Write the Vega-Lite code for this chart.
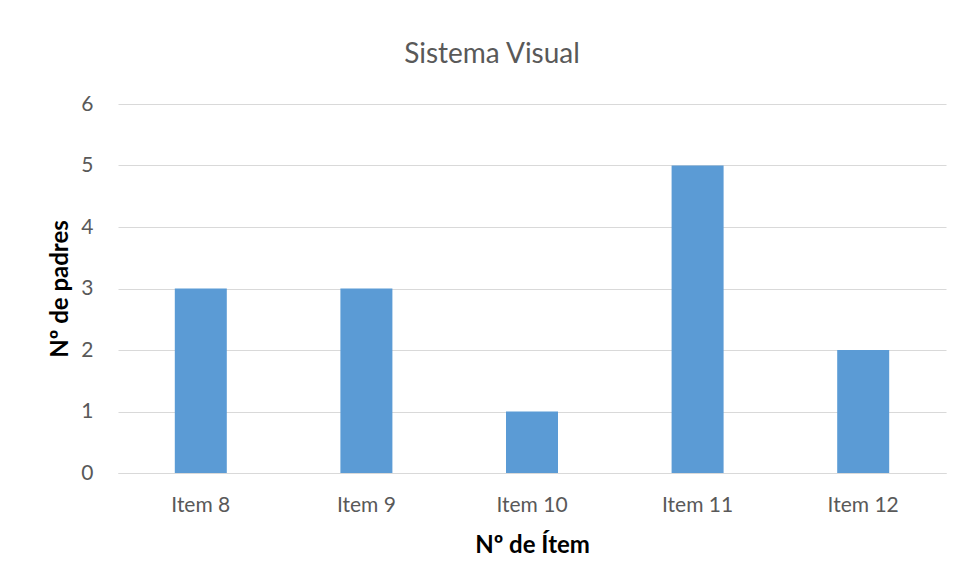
{
  "$schema": "https://vega.github.io/schema/vega-lite/v6.json",
  "width": 828,
  "height": 369,
  "autosize": {"type": "none"},
  "padding": {"left": 118, "top": 104, "right": 19, "bottom": 113},
  "background": "white",
  "data": {"values": [
    {"item": "Item 8", "padres": 3},
    {"item": "Item 9", "padres": 3},
    {"item": "Item 10", "padres": 1},
    {"item": "Item 11", "padres": 5},
    {"item": "Item 12", "padres": 2}
  ]},
  "title": {"text": "Sistema Visual", "fontSize": 28, "font": "Lato", "fontWeight": "normal", "color": "#595959", "offset": 24, "anchor": "middle", "dx": -40},
  "mark": {"type": "bar", "color": "#5b9bd5", "size": 52},
  "encoding": {
    "x": {"field": "item", "type": "nominal", "sort": null,
      "axis": {"title": "Nº de Ítem", "labelAngle": 0, "labelFont": "Lato", "labelFontSize": 21, "labelColor": "#595959", "labelPadding": 21, "ticks": false, "domainColor": "#d9d9d9", "titleFont": "Lato", "titleFontSize": 24, "titleFontWeight": "bold", "titleColor": "#000000", "titlePadding": 18}},
    "y": {"field": "padres", "type": "quantitative", "scale": {"domain": [0, 6], "nice": false},
      "axis": {"title": "Nº de padres", "values": [0, 1, 2, 3, 4, 5, 6], "labelOverlap": false, "domain": false, "ticks": false, "labelFont": "Lato", "labelFontSize": 21, "labelColor": "#595959", "labelPadding": 25, "gridColor": "#d9d9d9", "titleFont": "Lato", "titleFontSize": 24, "titleFontWeight": "bold", "titleColor": "#000000", "titlePadding": 8}}
  },
  "config": {"view": {"stroke": null}}
}
